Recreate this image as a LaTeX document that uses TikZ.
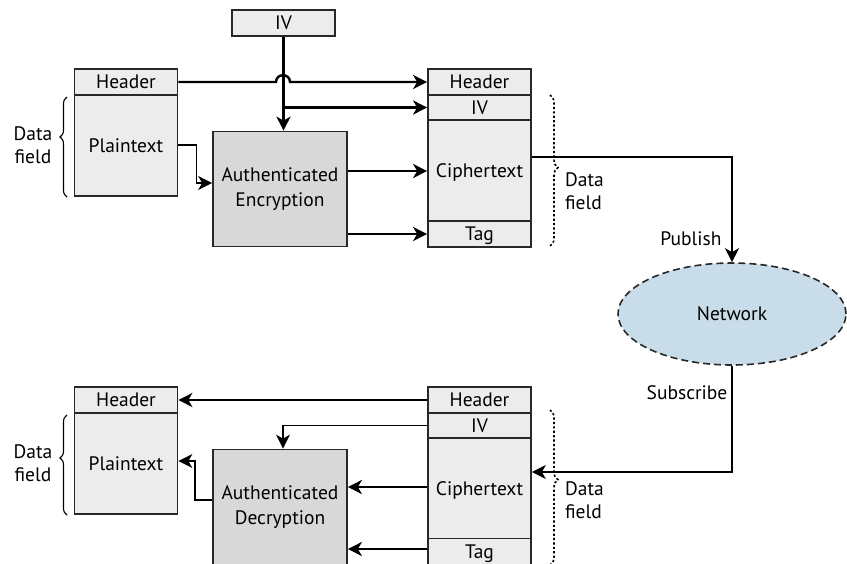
\documentclass[tikz,border=0pt]{standalone}
\usepackage{fontspec}
\setmainfont{PT Sans}
\usetikzlibrary{arrows.meta,shapes.geometric,decorations.pathreplacing}
\definecolor{boxgray}{RGB}{236,236,236}
\definecolor{aegray}{RGB}{216,216,216}
\definecolor{netblue}{RGB}{200,221,233}
\definecolor{edge}{RGB}{40,40,40}
\begin{document}
\begin{tikzpicture}[x=1pt,y=-1pt,
  every node/.style={font=\fontsize{19.5}{23}\selectfont, inner sep=0pt},
  field/.style={draw=edge, line width=1.7pt, fill=boxgray, minimum width=103pt,
                text height=13.5pt, text depth=0pt},
  engine/.style={draw=edge, line width=1.7pt, fill=aegray, minimum width=134pt,
                 minimum height=115pt, align=center, font=\fontsize{19.5}{25}\selectfont},
  fat/.style={draw=black, line width=2.4pt, -{Stealth[length=14pt,width=14pt,inset=4pt]}},
  slim/.style={draw=black, line width=1.6pt, -{Stealth[length=14pt,width=14pt,inset=4pt]}},
  label/.style={align=center},
  sbrace/.style={draw=black, line width=1.1pt, decorate},
  dbrace/.style={draw=black, line width=1.6pt, dash pattern=on 2.2pt off 2.2pt, decorate},
  netnode/.style={ellipse, draw=edge, line width=1.6pt, dash pattern=on 7pt off 4pt,
                  fill=netblue, minimum width=228pt, minimum height=102pt}
]
\useasboundingbox (0,0) rectangle (847,563);

% ---------- sender ----------
\node[field, minimum height=26pt] (iv) at (283.5,23) {IV};
\node[field, minimum height=26pt] (phdr) at (126,82) {Header};
\node[field, minimum height=101pt] (ptxt) at (126,145.5) {Plaintext};
\node[engine] (aenc) at (280,189) {Authenticated\\Encryption};
\node[field, minimum height=26pt] (chdr) at (479.5,82) {Header};
\node[field, minimum height=25pt] (civ) at (479.5,107.5) {IV};
\node[field, minimum height=101pt] (ctxt) at (479.5,170.5) {Ciphertext};
\node[field, minimum height=26pt] (ctag) at (479.5,234) {Tag};

\draw[sbrace, decoration={brace, amplitude=7pt, aspect=0.6}] (67,197) -- (67,97);
\node[label] (ldf1) at (33,145) {Data\\field};
\draw[dbrace, decoration={brace, amplitude=8pt, aspect=0.48}] (550,95) -- (550,246);
\node[label, anchor=west, align=left] (rdf1) at (565,191) {Data\\field};

\draw[fat] (phdr.east) -- (276,82) .. controls (276,73) and (290,73) .. (290,82) -- (chdr.west);
\draw[fat] (iv.south) -- (iv.south |- aenc.north);
\draw[fat] (iv.south |- civ.west) -- (civ.west);
\draw[slim] (ptxt.east |- 0,145) -- ++(18,0) |- (aenc.west |- 0,183);
\draw[fat] (aenc.east |- 0,171) -- (ctxt.west |- 0,171);
\draw[fat] (aenc.east |- ctag.west) -- (ctag.west);

% ---------- network ----------
\node[netnode] (net) at (732,314) {Network};
\draw[slim] (ctxt.east |- 0,157) -| (net.north);
\node (pub) at (691,239) {Publish};

% ---------- receiver ----------
\node[field, minimum height=26pt] (dhdr) at (126,400) {Header};
\node[field, minimum height=101pt] (dtxt) at (126,463.5) {Plaintext};
\node[engine] (adec) at (280,507) {Authenticated\\Decryption};
\node[field, minimum height=26pt] (rhdr) at (479.5,400) {Header};
\node[field, minimum height=25pt] (riv) at (479.5,425.5) {IV};
\node[field, minimum height=101pt] (rtxt) at (479.5,488.5) {Ciphertext};
\node[field, minimum height=26pt] (rtag) at (479.5,551.5) {Tag};

\draw[sbrace, decoration={brace, amplitude=7pt, aspect=0.57}] (67,515) -- (67,415);
\node[label] (ldf2) at (33,463) {Data\\field};
\draw[dbrace, decoration={brace, amplitude=8pt, aspect=0.45}] (550,410) -- (550,565);
\node[label, anchor=west, align=left] (rdf2) at (565,500) {Data\\field};

\draw[slim] (net.south) |- (rtxt.east |- 0,472);
\node (sub) at (687,393) {Subscribe};

\draw[fat] (rhdr.west) -- (dhdr.east);
\draw[slim] (riv.west) -| ([xshift=3pt]adec.north);
\draw[slim] (adec.west |- 0,500) -- ++(-17,0) |- (dtxt.east |- 0,461);
\draw[fat] (rtxt.west |- 0,487) -- (adec.east |- 0,487);
\draw[fat] (rtag.west |- 0,549) -- (adec.east |- 0,549);
\end{tikzpicture}
\end{document}
